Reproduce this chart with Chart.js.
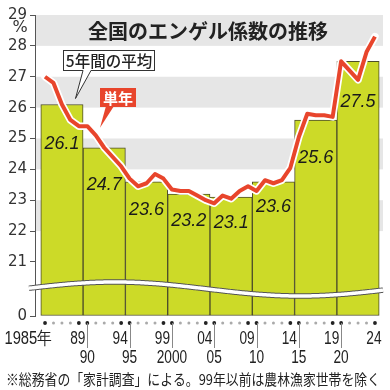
<!DOCTYPE html>
<html><head><meta charset="utf-8">
<script src="https://cdn.jsdelivr.net/npm/chart.js@4.4.1/dist/chart.umd.min.js"></script>
<style>html,body{margin:0;padding:0;background:#fff}canvas{display:block}</style>
</head><body>
<canvas id="c" width="390" height="390"></canvas>
<script>
// ---- data ----
const years = [1985,1986,1987,1988,1989,1990,1991,1992,1993,1994,1995,1996,1997,1998,1999,
  2000,2001,2002,2003,2004,2005,2006,2007,2008,2009,2010,2011,2012,2013,2014,
  2015,2016,2017,2018,2019,2020,2021,2022,2023,2024];
const yearlyValues = [27.0,26.8,26.1,25.6,25.4, 25.4,25.1,24.7,24.4,24.1,
  23.7,23.45,23.55,23.85,23.7, 23.35,23.3,23.3,23.15,23.0,
  22.9,23.15,23.05,23.3,23.45, 23.3,23.65,23.55,23.65,24.05,
  25.05,25.8,25.75,25.75,25.7, 27.5,27.2,26.9,27.8,28.3];
const periodStarts = [1985,1990,1995,2000,2005,2010,2015,2020];
const periodAverages = [26.1,24.7,23.6,23.2,23.1,23.6,25.6,27.5];
const yTickValues = [21,22,23,24,25,26,27,28,29];
const axisBreakValue = 19.25;          // bottom of broken axis, labelled "0"
const axisBreakLabel = '0';
const topRowYears = [1985,1989,1994,1999,2004,2009,2014,2019,2024];
const topRowLabels = ['1985年','89','94','99','04','09','14','19','24'];
const bottomRowYears = [1990,1995,2000,2005,2010,2015,2020];
const bottomRowLabels = ['90','95','2000','05','10','15','20'];
const titleText = '全国のエンゲル係数の推移';
const avgCalloutText = '5年間の平均';
const singleCalloutText = '単年';
const unitText = '%';
const footnoteText = '※総務省の「家計調査」による。99年以前は農林漁家世帯を除く';

// ---- styles ----
const BAR_FILL = 'rgb(204,218,40)';
const BAR_BORDER = '#4d4d2a';
const RED = '#e8452c';
const BAND = '#e6e6e6';
const JP = '"Noto Sans CJK JP", sans-serif';
const NUM = '"Liberation Sans", Arial, sans-serif';
const NUM_SQUEEZE = 0.76;
const labelDrop = [39, 37.5, 28, 27, 26, 25, 38.5, 41];

const barData = periodStarts.map((s, i) => ({ x: s + 2, y: periodAverages[i] }));
const lineData = years.map((y, i) => ({ x: y, y: yearlyValues[i] }));

function squeezedText(ctx, text, x, y, align, factor) {
  ctx.save();
  ctx.translate(x, y);
  ctx.scale(factor, 1);
  ctx.textAlign = align;
  ctx.fillText(text, 0, 0);
  ctx.restore();
}

const decor = {
  id: 'decor',
  beforeDatasetsDraw(chart) {
    const { ctx, chartArea: a, scales: { y } } = chart;
    ctx.save();
    ctx.fillStyle = BAND;
    for (let v = 22; v < 29; v += 2) {
      const t = y.getPixelForValue(v + 1), b = y.getPixelForValue(v);
      ctx.fillRect(a.left + 1, t, a.right - a.left - 1, b - t);
    }
    ctx.fillStyle = '#222';
    ctx.font = 'bold 20px ' + JP;
    ctx.textAlign = 'center';
    ctx.textBaseline = 'middle';
    ctx.fillText(titleText, (a.left + a.right) / 2 - 1, (y.getPixelForValue(29) + y.getPixelForValue(28)) / 2 + 1);
    ctx.restore();
  },
  afterDatasetDraw(chart, args) {
    if (args.meta.type !== 'bar') return;
    const { ctx, scales: { x, y } } = chart;
    ctx.save();
    ctx.fillStyle = '#1a1a1a';
    ctx.font = 'italic 18px "Liberation Sans", Arial, sans-serif';
    ctx.textAlign = 'center';
    ctx.textBaseline = 'middle';
    periodAverages.forEach((v, i) => {
      ctx.fillText(v.toFixed(1), x.getPixelForValue(periodStarts[i] + 2), y.getPixelForValue(v) + labelDrop[i]);
    });
    ctx.restore();
  },
  afterDatasetsDraw(chart) {
    const { ctx, chartArea: a, scales: { x, y } } = chart;
    ctx.save();
    // axis break wave
    const wave = xx => 289 - 7 * Math.cos(2 * Math.PI * (xx - 115) / 370);
    ctx.beginPath();
    for (let xx = 29; xx <= a.right; xx += 1) {
      if (xx === 29) ctx.moveTo(xx, wave(xx)); else ctx.lineTo(xx, wave(xx));
    }
    ctx.lineCap = 'butt';
    ctx.strokeStyle = '#555';
    ctx.lineWidth = 5.5;
    ctx.stroke();
    ctx.strokeStyle = '#fff';
    ctx.lineWidth = 3.5;
    ctx.stroke();

    // "5年間の平均" callout
    const bx = 63, by = 50, bw = 92, bh = 21;
    const tipX = x.getPixelForValue(1988.6), tipY = y.getPixelForValue(periodAverages[0]) - 6;
    ctx.fillStyle = '#fff';
    ctx.strokeStyle = '#333';
    ctx.lineWidth = 1;
    ctx.fillRect(bx, by, bw, bh);
    ctx.strokeRect(bx + 0.5, by + 0.5, bw - 1, bh - 1);
    ctx.beginPath();
    ctx.moveTo(83, by + bh - 0.5);
    ctx.lineTo(tipX, tipY);
    ctx.lineTo(91, by + bh - 0.5);
    ctx.fill();
    ctx.stroke();
    ctx.fillRect(83.5, by + bh - 2, 7, 2);
    ctx.fillStyle = '#222';
    ctx.font = '500 15.5px ' + JP;
    ctx.textAlign = 'center';
    ctx.textBaseline = 'middle';
    ctx.fillText(avgCalloutText, bx + bw / 2, by + bh / 2 + 1);

    // "単年" callout
    const rx = 100, ry = 88, rw = 36, rh = 19;
    ctx.fillStyle = RED;
    ctx.fillRect(rx, ry, rw, rh);
    ctx.beginPath();
    ctx.moveTo(106, ry + rh - 1);
    ctx.lineTo(x.getPixelForValue(1991.5), y.getPixelForValue(25.35));
    ctx.lineTo(114, ry + rh - 1);
    ctx.closePath();
    ctx.fill();
    ctx.fillStyle = '#fff';
    ctx.font = 'bold 15px ' + JP;
    ctx.fillText(singleCalloutText, rx + rw / 2, ry + rh / 2 + 1);

    // unit
    ctx.fillStyle = '#333';
    ctx.font = '16px "DejaVu Sans", sans-serif';
    ctx.fillText(unitText, 20, 28);

    // x-axis dots, connectors and labels
    const dotY = a.bottom + 7;
    years.forEach(yr => {
      const px = x.getPixelForValue(yr);
      const major = (yr - 1985) % 5 === 0 || (yr - 1985) % 5 === 4;
      ctx.fillStyle = major ? '#222' : '#aaa';
      ctx.beginPath();
      ctx.arc(px, dotY, major ? 1.9 : 1.5, 0, Math.PI * 2);
      ctx.fill();
    });
    ctx.strokeStyle = '#888';
    ctx.lineWidth = 1;
    bottomRowYears.forEach(yr => {
      const px = Math.round(x.getPixelForValue(yr)) + 0.5;
      ctx.beginPath();
      ctx.moveTo(px, dotY);
      ctx.lineTo(px, dotY + 25);
      ctx.stroke();
    });
    ctx.fillStyle = '#222';
    ctx.font = '18px ' + NUM;
    ctx.textBaseline = 'middle';
    topRowYears.forEach((yr, i) => {
      const px = x.getPixelForValue(yr);
      if (i === 0) squeezedText(ctx, topRowLabels[i], px + 7, 339.5, 'right', 0.82);
      else squeezedText(ctx, topRowLabels[i], px - 1, 339.5, 'center', NUM_SQUEEZE);
    });
    bottomRowYears.forEach((yr, i) => {
      squeezedText(ctx, bottomRowLabels[i], x.getPixelForValue(yr), 358.5, 'center', NUM_SQUEEZE);
    });

    // footnote
    ctx.textAlign = 'left';
    ctx.font = '15px ' + JP;
    ctx.fillStyle = '#222';
    ctx.fillText(footnoteText, 6, 379, 374);
    ctx.restore();
  }
};

new Chart(document.getElementById('c'), {
  data: {
    datasets: [
      { type: 'bar', data: barData, backgroundColor: BAR_FILL, borderColor: BAR_BORDER, borderWidth: 1,
        borderSkipped: false, base: axisBreakValue, barPercentage: 1, categoryPercentage: 1, order: 3 },
      { type: 'line', data: lineData, borderColor: '#fff', borderWidth: 7.5, pointRadius: 0, tension: 0,
        borderJoinStyle: 'round', borderCapStyle: 'round', order: 2 },
      { type: 'line', data: lineData, borderColor: RED, borderWidth: 4, pointRadius: 0, tension: 0,
        borderJoinStyle: 'round', order: 1 }
    ]
  },
  options: {
    responsive: false,
    animation: false,
    devicePixelRatio: 1,
    layout: { padding: { top: 15, right: 7, left: 0, bottom: 0 } },
    plugins: { legend: { display: false }, tooltip: { enabled: false } },
    scales: {
      x: {
        type: 'linear', min: 1983.815, max: 2024.95, offset: false,
        grid: { display: false, offset: false }, border: { display: false },
        ticks: { display: false },
        afterBuildTicks: s => { s.ticks = periodStarts.map(p => ({ value: p + 2 })); },
        afterFit: s => { s.height = 74; }
      },
      y: {
        type: 'linear', min: axisBreakValue, max: 29,
        afterBuildTicks: s => { s.ticks = [axisBreakValue, ...yTickValues].map(v => ({ value: v })); },
        afterFit: s => { s.width = 35; },
        ticks: {
          color: '#333', padding: 3, font: { family: '"DejaVu Sans", sans-serif', size: 15 },
          callback: v => v === axisBreakValue ? axisBreakLabel : String(v)
        },
        grid: { drawOnChartArea: false, drawTicks: true, tickLength: 5, color: '#555' },
        border: { display: true, color: '#555', width: 1 }
      }
    }
  },
  plugins: [decor]
});
</script>
</body></html>
